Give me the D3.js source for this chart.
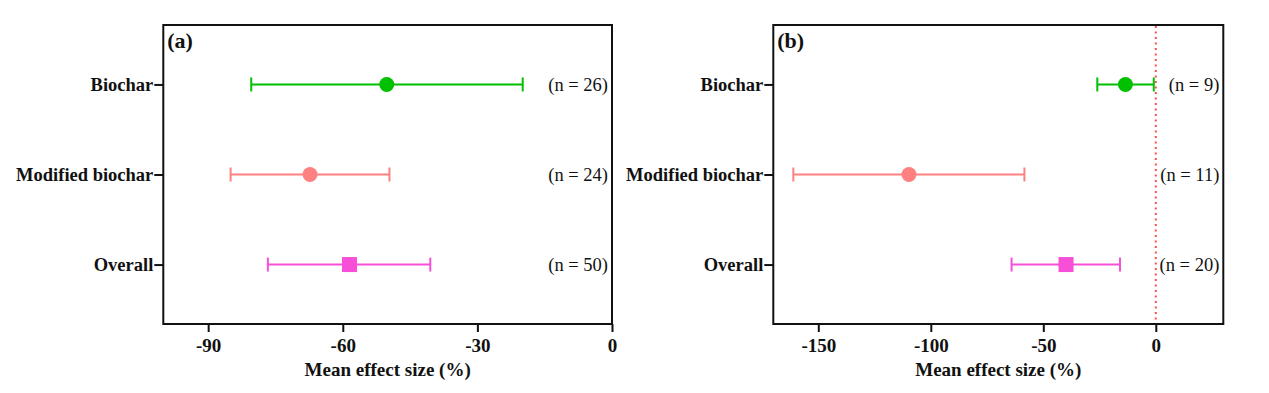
<!DOCTYPE html>
<html><head><meta charset="utf-8">
<script src="https://cdn.jsdelivr.net/npm/d3@7"></script>
<style>body{margin:0;background:#fff}svg{display:block}</style>
</head><body><svg id="c" width="1269" height="393"></svg>
<script>
const categories = ["Biochar", "Modified biochar", "Overall"];
const colors = ["#00C000", "#FF8080", "#F74FD8"];
const shapes = ["circle", "circle", "square"];
// panel a
const aMean = [-50.2, -67.3, -58.5];
const aLow = [-80.4, -85.0, -76.7];
const aHigh = [-19.9, -49.6, -40.5];
const aN = ["(n = 26)", "(n = 24)", "(n = 50)"];
const aTicks = [-90, -60, -30, 0];
// panel b
const bMean = [-13.5, -109.7, -39.9];
const bLow = [-26.0, -161.1, -64.1];
const bHigh = [-0.9, -58.4, -15.9];
const bN = ["(n = 9)", "(n = 11)", "(n = 20)"];
const bTicks = [-150, -100, -50, 0];

const FONT = "'Liberation Serif', 'Times New Roman', serif";
const svg = d3.select("#c");
function panel(o) {
  const g = svg.append("g");
  const x = d3.scaleLinear().domain(o.domain).range([o.left, o.right]);
  const y = d3.scalePoint().domain(categories).range([25, 324]).padding(0.66);
  if (o.zero) {
    g.append("line").attr("x1", x(0)).attr("x2", x(0)).attr("y1", 26).attr("y2", 323)
      .attr("stroke", "#FF4D4D").attr("stroke-width", 2).attr("stroke-dasharray", "2,3.5");
  }
  const xa = g.append("g").attr("transform", "translate(0,324)")
    .call(d3.axisBottom(x).tickValues(o.ticks).tickSize(8).tickSizeOuter(0));
  xa.attr("font-family", null).attr("font-size", null);
  xa.select(".domain").remove();
  xa.selectAll(".tick line").attr("stroke", "#111").attr("stroke-width", 2);
  xa.selectAll(".tick text").style("font-family", FONT).style("font-size", "19px").style("font-weight", "bold").attr("fill", "#111")
    .attr("dy", "0.9em").text(d => d < 0 ? "-" + Math.abs(d) : d);
  const ya = g.append("g").attr("transform", `translate(${o.left},0)`)
    .call(d3.axisLeft(y).tickSize(9).tickSizeOuter(0));
  ya.attr("font-family", null).attr("font-size", null);
  ya.select(".domain").remove();
  ya.selectAll(".tick line").attr("stroke", "#111").attr("stroke-width", 2);
  ya.selectAll(".tick text").style("font-family", FONT).style("font-size", "18.5px").style("font-weight", "bold").attr("fill", "#111")
    .attr("x", -10).attr("dy", "0.34em");
  g.append("rect").attr("x", o.left).attr("y", 25).attr("width", o.right - o.left).attr("height", 299)
    .attr("fill", "none").attr("stroke", "#111").attr("stroke-width", 2);
  categories.forEach((c, i) => {
    const yy = y(c);
    const eg = g.append("g").attr("stroke", colors[i]).attr("stroke-width", 2);
    eg.append("line").attr("x1", x(o.low[i])).attr("x2", x(o.high[i])).attr("y1", yy).attr("y2", yy);
    eg.append("line").attr("x1", x(o.low[i])).attr("x2", x(o.low[i])).attr("y1", yy - 7).attr("y2", yy + 7);
    eg.append("line").attr("x1", x(o.high[i])).attr("x2", x(o.high[i])).attr("y1", yy - 7).attr("y2", yy + 7);
    if (shapes[i] === "circle") {
      g.append("circle").attr("cx", x(o.mean[i])).attr("cy", yy).attr("r", 7.5).attr("fill", colors[i]);
    } else {
      g.append("rect").attr("x", x(o.mean[i]) - 7.5).attr("y", yy - 7.5).attr("width", 15).attr("height", 15).attr("fill", colors[i]);
    }
    g.append("text").attr("x", o.right - 4).attr("y", yy).attr("dy", "0.34em").attr("text-anchor", "end")
      .style("font-family", FONT).attr("fill", "#111").style("font-size", "18.5px").text(o.n[i]);
  });
  g.append("text").attr("x", o.left + 4).attr("y", 48).style("font-family", FONT).attr("fill", "#111")
    .style("font-size", "22px").style("font-weight", "bold").text(o.label);
  g.append("text").attr("x", (o.left + o.right) / 2).attr("y", 376).attr("text-anchor", "middle")
    .style("font-family", FONT).attr("fill", "#111")
    .style("font-size", "19px").style("font-weight", "bold").text("Mean effect size (%)");
}
panel({left: 163.3, right: 612, domain: [-100, 0], ticks: aTicks, mean: aMean, low: aLow, high: aHigh, n: aN, label: "(a)", zero: false});
panel({left: 773.3, right: 1223.3, domain: [-170, 30], ticks: bTicks, mean: bMean, low: bLow, high: bHigh, n: bN, label: "(b)", zero: true});
</script></body></html>
